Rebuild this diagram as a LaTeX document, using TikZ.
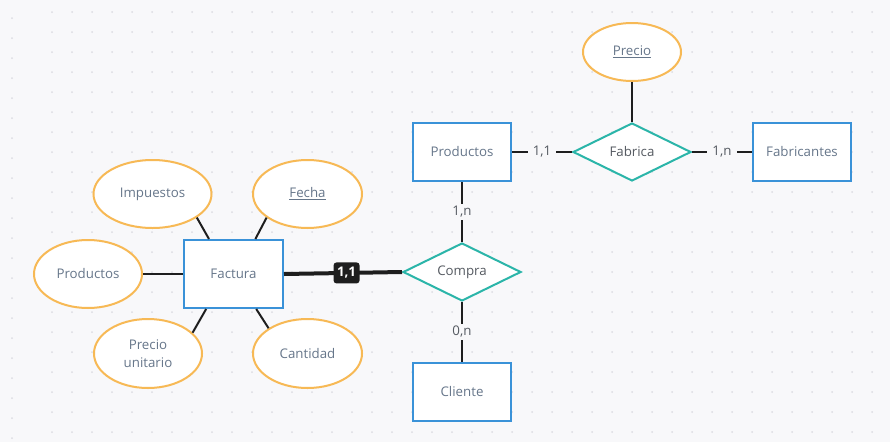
\documentclass[tikz,border=0pt]{standalone}
\usepackage{fontspec}
\setmainfont{Open Sans}
\usetikzlibrary{shapes.geometric}
\definecolor{bgc}{HTML}{F8F8FA}
\definecolor{dotc}{HTML}{DCDCE2}
\definecolor{entc}{HTML}{3A92D8}
\definecolor{attc}{HTML}{F7B955}
\definecolor{relc}{HTML}{2BB5A9}
\definecolor{txta}{HTML}{66768A}
\definecolor{txtr}{HTML}{555A61}
\definecolor{linec}{HTML}{1E1E1E}
\tikzset{
  every node/.style={font=\fontsize{13.3}{16}\selectfont},
  entity/.style={draw=entc, line width=2pt, fill=white, minimum width=98pt, minimum height=58pt, inner sep=0pt, text=txta},
  attr/.style={ellipse, draw=attc, line width=2pt, fill=white, inner sep=0pt, text=txta, align=center, font=\fontsize{13.3}{18}\selectfont},
  rel/.style={diamond, draw=relc, line width=2pt, fill=white, minimum width=118pt, minimum height=58pt, inner sep=0pt, aspect=2, text=txtr},
  conn/.style={draw=linec, line width=2pt},
  card/.style={fill=bgc, text=txtr, inner xsep=5pt, inner ysep=2pt},
  badge/.style={fill=linec, text=white, rounded corners=3pt, inner xsep=3.5pt, inner ysep=0pt, minimum height=21pt, font=\fontsize{13.3}{16}\selectfont\bfseries},
}
\begin{document}
\begin{tikzpicture}[x=1pt,y=-1pt]
\fill[bgc] (0,0) rectangle (890,442);
\useasboundingbox (0,0) rectangle (890,442);
\foreach \i in {0,...,41} {\foreach \j in {0,...,21} {\fill[dotc] (52+20*\i,12+20*\j) circle (1pt);}}
\foreach \j in {0,...,21} {\fill[dotc] (12,18+20*\j) circle (1pt);}

% entities
\node[entity, minimum width=99pt, minimum height=68pt] (fac) at (233.5,274) {Factura};
\node[entity] (prd) at (462,152) {Productos};
\node[entity] (fab) at (802,152) {Fabricantes};
\node[entity] (cli) at (462,392) {Cliente};

% relationships
\node[rel] (com) at (462,272) {Compra};
\node[rel] (fbr) at (632,152) {Fabrica};

% attributes
\node[attr, minimum width=118pt, minimum height=68pt] (imp) at (152.5,194) {Impuestos};
\node[attr, minimum width=109pt, minimum height=68pt] (fec) at (307.5,194) {\underline{Fecha}};
\node[attr, minimum width=108pt, minimum height=68pt] (pra) at (88,274) {Productos};
\node[attr, minimum width=108pt, minimum height=69pt] (pun) at (148,353.5) {Precio\\unitario};
\node[attr, minimum width=109pt, minimum height=69pt] (can) at (307.5,353.5) {Cantidad};
\node[attr, minimum width=98pt, minimum height=58pt] (pre) at (632,52) {\underline{Precio}};

% attribute connectors
\draw[conn] (imp.-28.5) -- (fac.125);
\draw[conn] (fec.210.6) -- (fac.58);
\draw[conn] (pra.east) -- (fac.west);
\draw[conn] (pun.25.5) -- (fac.232);
\draw[conn] (can.147.5) -- (fac.303.5);
\draw[conn] (pre.south) -- (fbr.north);

% relationship connectors
\draw[conn] (prd.east) -- node[card] {1,1} (fbr.west);
\draw[conn] (fbr.east) -- node[card] {1,n} (fab.west);
\draw[conn] (prd.south) -- node[card] {1,n} (com.north);
\draw[conn] (com.south) -- node[card] {0,n} (cli.north);
\draw[draw=linec, line width=4pt] (fac.east) -- node[pos=0.53, badge] {1,1} (com.west);
\end{tikzpicture}
\end{document}
